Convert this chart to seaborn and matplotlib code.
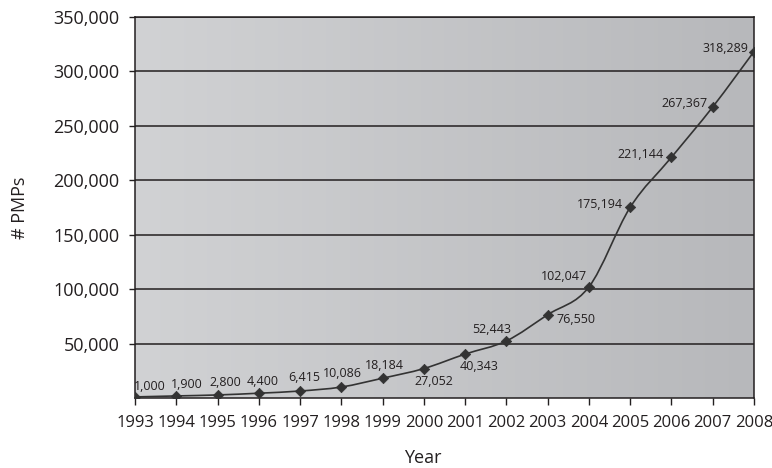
import numpy as np
import pandas as pd
import matplotlib
matplotlib.use("Agg")
import matplotlib.pyplot as plt
import seaborn as sns
from matplotlib.path import Path
from matplotlib.patches import PathPatch
from matplotlib.ticker import FuncFormatter

years = [1993, 1994, 1995, 1996, 1997, 1998, 1999, 2000,
         2001, 2002, 2003, 2004, 2005, 2006, 2007, 2008]
pmps = [1000, 1900, 2800, 4400, 6415, 10086, 18184, 27052,
        40343, 52443, 76550, 102047, 175194, 221144, 267367, 318289]
y_ticks = [50000, 100000, 150000, 200000, 250000, 300000, 350000]

# label offsets in pixels (dx, dy) and alignment
lab_dx = [15, 11, 8, 4, 4, 1, 2, 10, 14, -15, 9, -2, -7, -8, -5, -6]
lab_dy = [10, 11, 12, 12, 14, 14, 13, -13, -12, 11, -5, 10, 3, 3, 3, 3]
lab_ha = ['center'] * 10 + ['left', 'right', 'right', 'right', 'right', 'right']

df = pd.DataFrame({'Year': years, 'PMPs': pmps})

sns.set_theme(style='white')
plt.rcParams['font.family'] = ['Open Sans', 'DejaVu Sans']
ink = '#231f20'

fig = plt.figure(figsize=(7.72, 4.68), dpi=100)
ax = fig.add_axes([135 / 772, 1 - 398 / 468, 619 / 772, 381 / 468])

# gradient background
grad = np.linspace(0, 1, 256).reshape(1, -1)
cmap = matplotlib.colors.LinearSegmentedColormap.from_list('g', ['#d1d2d4', '#b7b8bb'])
ax.imshow(grad, extent=[0, 1, 0, 1], transform=ax.transAxes, cmap=cmap,
          aspect='auto', zorder=0)

for t in y_ticks:
    ax.axhline(t, color=ink, lw=1.1, zorder=1)

# smooth curve (Catmull-Rom -> cubic bezier)
pts = np.column_stack([years, pmps]).astype(float)
ext = np.vstack([pts[0], pts, pts[-1]])
verts = [tuple(pts[0])]
codes = [Path.MOVETO]
for i in range(1, len(ext) - 2):
    p0, p1, p2, p3 = ext[i - 1], ext[i], ext[i + 1], ext[i + 2]
    c1 = p1 + (p2 - p0) / 6
    c2 = p2 - (p3 - p1) / 6
    verts += [tuple(c1), tuple(c2), tuple(p2)]
    codes += [Path.CURVE4] * 3
ax.add_patch(PathPatch(Path(verts, codes), fill=False, edgecolor='#333333',
                       lw=1.2, zorder=3))

sns.scatterplot(data=df, x='Year', y='PMPs', marker='D', s=28, color='#333333',
                edgecolor='#333333', linewidth=0.5, ax=ax, zorder=4)

for x, y, dx, dy, ha in zip(years, pmps, lab_dx, lab_dy, lab_ha):
    ax.annotate(f'{y:,}', (x, y), xytext=(dx * 0.72, dy * 0.72),
                textcoords='offset points', ha=ha, va='center',
                fontsize=9, color=ink, zorder=5)

ax.set_xlim(1993, 2008)
ax.set_ylim(0, 350000)
ax.set_xticks(years)
ax.set_yticks(y_ticks)
ax.yaxis.set_major_formatter(FuncFormatter(lambda v, p: f'{int(v):,}'))
ax.tick_params(axis='y', direction='out', length=4, width=1, color=ink,
               labelsize=13, labelcolor=ink, pad=7, left=True)
ax.tick_params(axis='x', direction='out', length=5, width=1, color=ink,
               labelsize=12, labelcolor=ink, pad=7, bottom=True)
for s in ax.spines.values():
    s.set_color(ink)
    s.set_linewidth(1.1)
    s.set_visible(True)

ax.set_xlabel('Year', fontsize=13, color=ink)
ax.set_ylabel('# PMPs', fontsize=13, color=ink)
ax.xaxis.set_label_coords(0.465, -0.135)
ax.yaxis.set_label_coords(-0.171, 0.5)

fig.savefig('out.png', dpi=100)
